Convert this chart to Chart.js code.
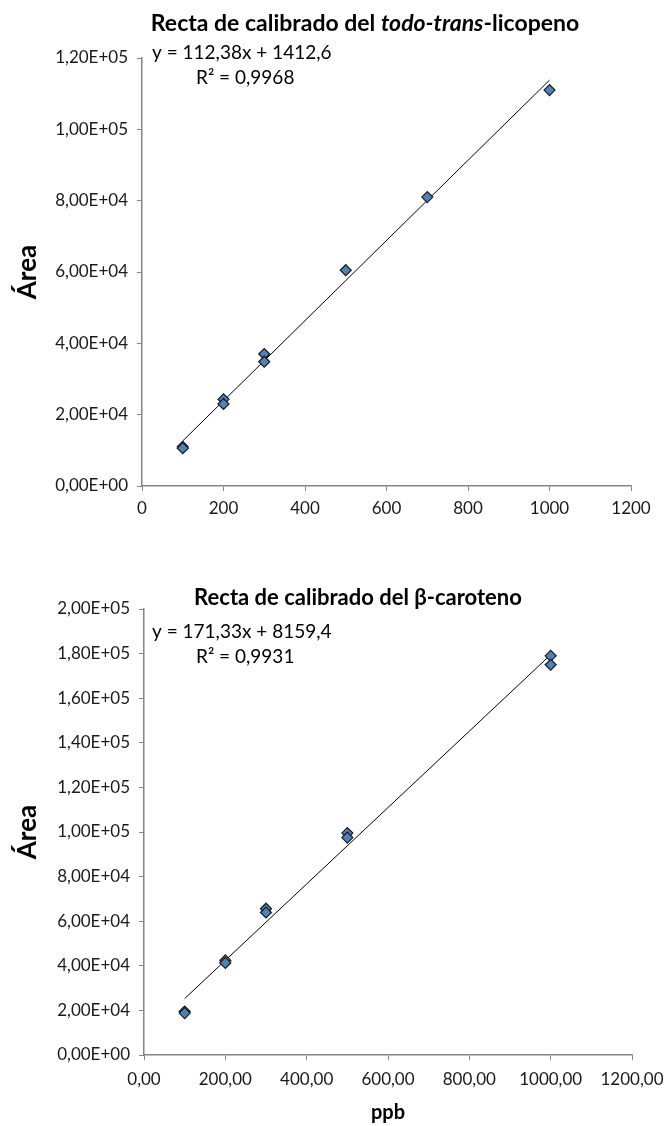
<!DOCTYPE html>
<html>
<head>
<meta charset="utf-8">
<script src="https://cdn.jsdelivr.net/npm/chart.js@4.4.1/dist/chart.umd.min.js"></script>
<style>
  html, body { margin: 0; padding: 0; background: #fff; }
  #wrap { position: relative; width: 664px; height: 1126px; }
  canvas { position: absolute; left: 0; display: block; }
</style>
</head>
<body>
<div id="wrap">
  <canvas id="c1" width="664" height="560" style="top:0"></canvas>
  <canvas id="c2" width="664" height="566" style="top:560px"></canvas>
</div>
<script>
// todo-trans-licopeno calibration
const licopenoPpb  = [100, 100, 200, 200, 300, 300, 500, 700, 1000];
const licopenoArea = [11000, 10600, 24300, 23000, 37000, 34850, 60500, 81000, 111000];
const licopenoFit  = [112.38, 1412.6];   // slope, intercept
const licopenoR2   = 0.9968;
const licopenoXTicks = [0, 200, 400, 600, 800, 1000, 1200];

// beta-caroteno calibration
const carotenoPpb  = [100, 100, 200, 200, 300, 300, 500, 500, 1000, 1000];
const carotenoArea = [19500, 18800, 42400, 41300, 65600, 63900, 99500, 97500, 179000, 175000];
const carotenoFit  = [171.33, 8159.4];
const carotenoR2   = 0.9931;
const carotenoXTicks = [0, 200, 400, 600, 800, 1000, 1200];

const FONT = "Lato, 'Open Sans', sans-serif";
const AXIS = '#868686';

function comma(v) { return String(v).replace('.', ','); }

// 1,20E+05 style labels
function sci(v) {
  const [m, e] = Number(v).toExponential(2).split('e');
  const n = parseInt(e, 10);
  return m.replace('.', ',') + 'E' + (n < 0 ? '-' : '+') + String(Math.abs(n)).padStart(2, '0');
}

function fitLine(xs, fit) {
  const lo = Math.min(...xs), hi = Math.max(...xs);
  return [lo, hi].map(x => ({ x, y: fit[0] * x + fit[1] }));
}

// chart title (mixed styles) and trend-line equation
function decorations(titleParts, titleSize, titleCx, titleY, fit, r2, eqY) {
  return {
    id: 'decorations',
    afterDraw(chart) {
      const ctx = chart.ctx;
      ctx.save();
      ctx.fillStyle = '#000';
      ctx.textBaseline = 'middle';
      let total = 0;
      const widths = titleParts.map(([t, style]) => {
        ctx.font = style + ' ' + titleSize + 'px ' + FONT;
        const w = ctx.measureText(t).width;
        total += w;
        return w;
      });
      let x = titleCx - total / 2;
      ctx.textAlign = 'left';
      titleParts.forEach(([t, style], i) => {
        ctx.font = style + ' ' + titleSize + 'px ' + FONT;
        ctx.fillText(t, x, titleY);
        x += widths[i];
      });
      ctx.font = '19px ' + FONT;
      ctx.fillText('y = ' + comma(fit[0]) + 'x + ' + comma(fit[1]), 152, eqY);
      ctx.fillText('R\u00B2 = ' + comma(r2), 196, eqY + 25);
      ctx.restore();
    }
  };
}

function makeChart(id, cfg) {
  const pts = cfg.xs.map((x, i) => ({ x, y: cfg.ys[i] }));
  return new Chart(document.getElementById(id), {
    type: 'scatter',
    data: {
      datasets: [
        {
          data: pts,
          pointStyle: 'rectRot',
          pointRadius: 5.5,
          pointHoverRadius: 5.5,
          backgroundColor: '#4F81BD',
          borderColor: '#1a1a1a',
          borderWidth: 1.2
        },
        {
          data: fitLine(cfg.xs, cfg.fit),
          showLine: true,
          borderColor: '#000',
          borderWidth: 1,
          pointRadius: 0,
          pointHoverRadius: 0
        }
      ]
    },
    options: {
      responsive: false,
      animation: false,
      events: [],
      layout: { padding: cfg.padding },
      plugins: { legend: { display: false }, tooltip: { enabled: false } },
      scales: {
        x: {
          type: 'linear',
          min: cfg.xTicks[0],
          max: cfg.xTicks[cfg.xTicks.length - 1],
          afterBuildTicks(s) { s.ticks = cfg.xTicks.map(v => ({ value: v })); },
          afterFit(s) { s.height = cfg.xHeight; s.paddingRight = 0; s.paddingLeft = 0; },
          ticks: {
            callback: cfg.xLabel,
            color: '#1a1a1a',
            font: { family: FONT, size: 17 },
            padding: cfg.xPad,
            maxRotation: 0,
            autoSkip: false
          },
          grid: { drawOnChartArea: false, drawTicks: true, tickLength: 5, color: AXIS, lineWidth: 1 },
          border: { display: true, color: AXIS, width: 1.5 },
          title: cfg.xTitle
            ? { display: true, text: cfg.xTitle, color: '#000', font: { family: FONT, size: 20, weight: 'bold' }, padding: { top: 0, bottom: 1 } }
            : { display: false }
        },
        y: {
          min: 0,
          max: cfg.yMax,
          afterFit(s) { s.width = cfg.yWidth; },
          ticks: {
            stepSize: cfg.yStep,
            callback: v => sci(v),
            color: '#1a1a1a',
            font: { family: FONT, size: 17 },
            padding: 9
          },
          grid: { drawOnChartArea: false, drawTicks: true, tickLength: 5, color: AXIS, lineWidth: 1 },
          border: { display: true, color: AXIS, width: 1.5 },
          title: { display: true, text: 'Área', color: '#000', font: { family: FONT, size: 26, weight: 'bold' }, padding: { top: 12, bottom: 0 } }
        }
      }
    },
    plugins: [decorations(cfg.title, cfg.titleSize, cfg.titleCx, cfg.titleY, cfg.fit, cfg.r2, cfg.eqY)]
  });
}

makeChart('c1', {
  xs: licopenoPpb, ys: licopenoArea, fit: licopenoFit, r2: licopenoR2,
  xTicks: licopenoXTicks, xLabel: v => String(v),
  yMax: 120000, yStep: 20000,
  padding: { top: 58, right: 33, bottom: 0, left: 0 },
  yWidth: 142, xHeight: 74, xPad: 7,
  title: [['Recta de calibrado del ', 'bold'], ['todo-trans', 'italic bold'], ['-licopeno', 'bold']],
  titleSize: 23, titleCx: 365, titleY: 24, eqY: 53
});

makeChart('c2', {
  xs: carotenoPpb, ys: carotenoArea, fit: carotenoFit, r2: carotenoR2,
  xTicks: carotenoXTicks, xLabel: v => Number(v).toFixed(2).replace('.', ','),
  xTitle: 'ppb',
  yMax: 200000, yStep: 20000,
  padding: { top: 49, right: 32, bottom: 0, left: 0 },
  yWidth: 144, xHeight: 71, xPad: 9,
  title: [['Recta de calibrado del \u03B2-caroteno', 'bold']],
  titleSize: 22, titleCx: 358, titleY: 38, eqY: 72
});
</script>
</body>
</html>
